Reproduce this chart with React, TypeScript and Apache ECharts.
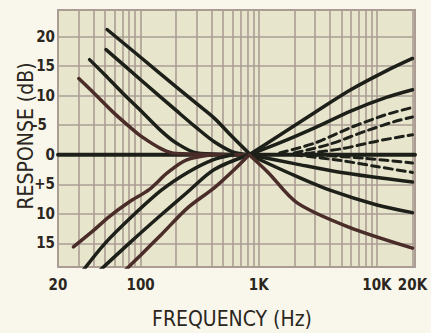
import React, { useEffect, useRef } from "react";
import * as echarts from "echarts";

const FONT = "'Liberation Sans Narrow', 'DejaVu Sans Condensed', 'Roboto Condensed', sans-serif";

// tick labels
const xTicks = [20, 100, 1000, 10000, 20000];
const xTickLabels: Record<number, string> = { 20: "20", 100: "100", 1000: "1K", 10000: "10K", 20000: "20K" };
const yTicks = [-15, -10, -5, 0, 5, 10, 15, 20];
const yTickLabels: Record<number, string> = { 20: "20", 15: "15", 10: "10", 5: "–5", 0: "0", "-5": "+5", "-10": "10", "-15": "15" } as any;

// grid paper
const gridFreqs = [30, 40, 50, 60, 70, 80, 90, 100, 200, 300, 400, 500, 600, 700, 800, 900, 1000, 2000, 3000, 4000, 5000, 6000, 7000, 8000, 9000, 10000, 20000];
const gridLevels = [-15, -10, -5, 0, 5, 10, 15, 20];

// flat response
const flat = [[20, 0], [21000, 0]];

// bass boost curves [Hz, dB]
const bassBoost1 = [[52, 21.2], [100, 16.5], [200, 11.5], [300, 8.6], [420, 6.2], [600, 3], [830, 0.2]];
const bassBoost2 = [[51, 17.8], [100, 12.7], [200, 7.5], [300, 4.5], [420, 2.2], [600, 0.5], [830, 0]];
const bassBoost3 = [[37, 16.1], [50, 13.5], [70, 10.5], [100, 7.5], [150, 4], [200, 2], [300, 0.3], [830, 0]];
const bassBoost4 = [[30, 12.9], [40, 10.5], [60, 7], [80, 4.8], [100, 3.2], [150, 1], [200, 0.2], [830, 0]];

// bass cut curves
const bassCut1 = [[27, -15.6], [40, -12.8], [54, -10.5], [80, -8], [118, -5.9], [170, -3], [243, -0.9], [400, 0]];
const bassCut2 = [[32, -19.8], [50, -15], [84, -10.5], [150, -6], [250, -3], [404, -0.9], [600, 0]];
const bassCut3 = [[44, -19.8], [80, -15], [143, -10.5], [250, -6.3], [420, -2.5], [830, 0]];
const bassCut4 = [[72, -19.8], [100, -17], [150, -13.5], [250, -9], [420, -5.6], [600, -2.8], [830, 0]];

// treble curves (solid)
const trebleBoost1 = [[830, 0], [1500, 3.3], [3000, 7.2], [6000, 11], [12000, 14.2], [20000, 16.3]];
const trebleBoost2 = [[830, 0], [1500, 2], [3000, 4.6], [6000, 7.4], [12000, 9.7], [20000, 11]];
const trebleCut1 = [[830, 0], [2000, -1.5], [5000, -3], [20000, -4.6]];
const trebleCut2 = [[830, 0], [2000, -3.5], [4000, -6], [10000, -8.5], [20000, -9.8]];
const trebleCut3 = [[830, 0], [1200, -3], [2100, -8.1], [5700, -12.2], [20000, -15.8]];

// treble curves (dashed)
const dashBoost1 = [[1500, 0.3], [3000, 2], [6000, 4.6], [12000, 6.8], [20000, 8]];
const dashBoost2 = [[2000, 0.3], [4000, 1.8], [8000, 4], [14000, 5.6], [20000, 6.4]];
const dashBoost3 = [[2500, 0.2], [5000, 1], [10000, 2.3], [20000, 3.4]];
const dashCut1 = [[3000, 0], [8000, -0.6], [20000, -1.4]];
const dashCut2 = [[2000, 0], [5000, -1], [10000, -2], [20000, -3]];

const INK = "#1d2019";
const BROWN = "#4a2c28";
const GRID = "#ab9d94";

function curve(data: number[][], color: string, dashed = false, width = 3.5) {
  return {
    type: "line",
    data,
    smooth: 0.3,
    showSymbol: false,
    symbol: "none",
    silent: true,
    z: 5,
    lineStyle: { color, width, type: dashed ? [8, 5] : "solid", cap: "round" },
  };
}

export default function App() {
  const ref = useRef<HTMLDivElement>(null);
  useEffect(() => {
    if (!ref.current) return;
    const chart = echarts.init(ref.current, undefined, { renderer: "svg" });
    const labelStyle = { fontFamily: FONT, fontSize: 15, fontWeight: "bold", color: "#2b2620" };
    chart.setOption({
      animation: false,
      backgroundColor: "#f9f7ec",
      grid: {
        left: 58,
        right: 16,
        top: 10,
        bottom: 66,
        show: true,
        backgroundColor: "#e8e5cd",
        borderColor: GRID,
        borderWidth: 2,
      },
      xAxis: {
        type: "log",
        logBase: 10,
        min: 20,
        max: 21000,
        axisLine: { show: false },
        axisTick: { show: false },
        splitLine: { show: false },
        axisLabel: {
          ...labelStyle,
          margin: 10,
          customValues: xTicks,
          formatter: (v: number) => xTickLabels[Math.round(v)] ?? "",
        },
      },
      yAxis: {
        type: "value",
        min: -19,
        max: 24.5,
        axisLine: { show: false },
        axisTick: { show: false },
        splitLine: { show: false },
        axisLabel: {
          ...labelStyle,
          margin: 3,
          customValues: yTicks,
          formatter: (v: number) => {
            const s = yTickLabels[Math.round(v)] ?? "";
            return Math.round(v) === 5 ? "{m|" + s + "}" : s;
          },
          rich: { m: { ...labelStyle, padding: [0, 8, 0, 0] } },
        },
      },
      graphic: [
        {
          type: "text",
          x: 26,
          y: 136,
          rotation: Math.PI / 2,
          style: { text: "RESPONSE (dB)", font: `21px ${FONT}`, fill: "#2b2620", align: "center", verticalAlign: "middle" },
        },
        {
          type: "text",
          x: 232,
          y: 319,
          style: { text: "FREQUENCY (Hz)", font: `21px ${FONT}`, fill: "#2b2620", align: "center", verticalAlign: "middle" },
        },
      ],
      series: [
        {
          type: "line",
          data: [[20, 0]],
          showSymbol: false,
          symbol: "none",
          lineStyle: { opacity: 0 },
          silent: true,
          z: 1,
          markLine: {
            silent: true,
            symbol: "none",
            label: { show: false },
            lineStyle: { color: GRID, width: 1.6, type: "solid" },
            data: [
              ...gridFreqs.map((f) => ({ xAxis: f })),
              ...gridLevels.map((l) => ({ yAxis: l })),
            ],
          },
        },
        curve(flat, INK, false, 4),
        curve(bassBoost1, INK),
        curve(bassBoost2, INK),
        curve(bassBoost3, INK),
        curve(bassBoost4, BROWN),
        curve(bassCut1, BROWN),
        curve(bassCut2, INK),
        curve(bassCut3, INK),
        curve(bassCut4, BROWN),
        curve(trebleBoost1, INK),
        curve(trebleBoost2, INK),
        curve(trebleCut1, INK),
        curve(trebleCut2, INK),
        curve(trebleCut3, BROWN),
        curve(dashBoost1, INK, true, 3),
        curve(dashBoost2, INK, true, 3),
        curve(dashBoost3, INK, true, 3),
        curve(dashCut1, INK, true, 3),
        curve(dashCut2, INK, true, 3),
      ],
    });
    return () => chart.dispose();
  }, []);
  return <div ref={ref} style={{ width: 431, height: 333, position: "absolute", left: 0, top: 0 }} />;
}
